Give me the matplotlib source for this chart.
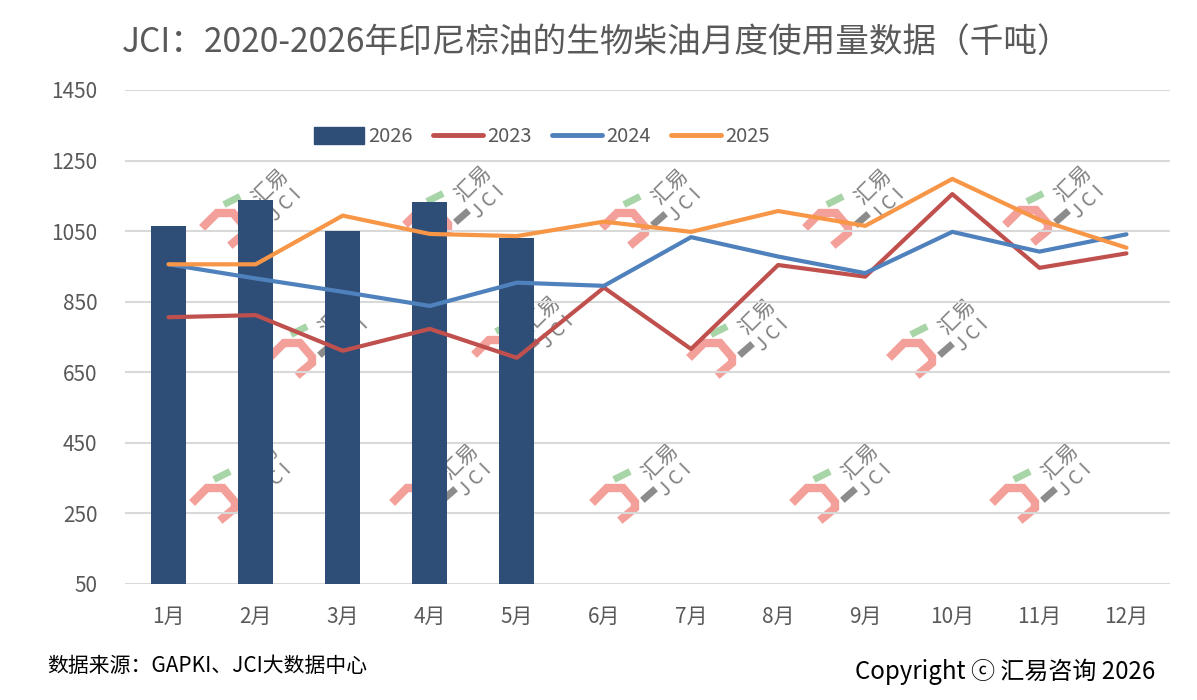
import matplotlib
matplotlib.use("Agg")
import matplotlib.pyplot as plt
from matplotlib.patches import Patch
from matplotlib.lines import Line2D
import numpy as np

plt.rcParams['font.family'] = ['Noto Sans CJK SC', 'DejaVu Sans']

months = ['1月', '2月', '3月', '4月', '5月', '6月', '7月', '8月', '9月', '10月', '11月', '12月']
y2026 = [1065, 1138, 1050, 1133, 1031]
y2023 = [806, 812, 711, 773, 691, 890, 716, 954, 921, 1155, 946, 987]
y2024 = [956, 916, 878, 838, 904, 895, 1033, 978, 931, 1048, 992, 1041]
y2025 = [956, 956, 1094, 1042, 1036, 1077, 1048, 1107, 1065, 1198, 1082, 1003]
yticks = [50, 250, 450, 650, 850, 1050, 1250, 1450]

W, H = 1197, 700
fig = plt.figure(figsize=(W / 100, H / 100), dpi=100)
ax = fig.add_axes([125 / W, 1 - 584 / H, (1170 - 125) / W, (584 - 90) / H])

x = np.arange(len(months))
ax.set_xlim(-0.5, len(months) - 0.5)
ax.set_ylim(50, 1450)


def fp(px, py):
    return px / W, 1 - py / H


# watermarks (decorative, behind the plot)
hooks = [(225, 225), (428, 222), (625, 225), (828, 225), (1028, 222),
         (292, 355), (497, 352), (712, 355), (912, 355),
         (215, 500), (415, 500), (615, 500), (815, 500), (1015, 500)]
for (hx, hy) in hooks:
    pts = [(-20, 0), (-8, -12), (8, -12), (20, 2), (20, 8), (8, 18)]
    xs = [fp(hx + a, hy + b)[0] for a, b in pts]
    ys = [fp(hx + a, hy + b)[1] for a, b in pts]
    fig.lines.append(Line2D(xs, ys, transform=fig.transFigure, color='#f4a09a', lw=6,
                            solid_joinstyle='miter', zorder=0.5))
    g = [fp(hx + 2, hy - 22), fp(hx + 12, hy - 27)]
    fig.lines.append(Line2D([g[0][0], g[1][0]], [g[0][1], g[1][1]], transform=fig.transFigure,
                            color='#a8d5a8', lw=5, zorder=0.5))
    d = [fp(hx + 30, hy - 2), fp(hx + 38, hy - 9)]
    fig.lines.append(Line2D([d[0][0], d[1][0]], [d[0][1], d[1][1]], transform=fig.transFigure,
                            color='#8c8c8c', lw=5, zorder=0.5))
    tx, ty = fp(hx + 45, hy - 38)
    fig.text(tx, ty, '汇易', rotation=45, fontsize=15, color='#808080',
             ha='center', va='center', zorder=0.5)
    tx, ty = fp(hx + 60, hy - 20)
    fig.text(tx, ty, 'J C I', rotation=45, fontsize=14, color='#808080',
             ha='center', va='center', zorder=0.5)

ax.set_zorder(1)
ax.patch.set_alpha(0)

ax.grid(axis='y', color='#d9d9d9', lw=1.5, zorder=0)
ax.set_axisbelow(True)
for s in ax.spines.values():
    s.set_visible(False)

c26, c23, c24, c25 = '#2e4e77', '#c0504d', '#4f81bd', '#f79646'
ax.bar(x[:len(y2026)], y2026, width=0.4, color=c26, label='2026', zorder=2)
ax.plot(x, y2023, color=c23, lw=3, label='2023', zorder=3, solid_capstyle='round')
ax.plot(x, y2024, color=c24, lw=3, label='2024', zorder=3, solid_capstyle='round')
ax.plot(x, y2025, color=c25, lw=3, label='2025', zorder=3, solid_capstyle='round')

ax.set_yticks(yticks, labels=[str(v) for v in yticks], fontsize=15,
              fontweight='medium', color='#595959')
ax.set_xticks(x, labels=months, fontsize=15, fontweight='medium', color='#595959')
ax.tick_params(axis='x', length=0, pad=16)
ax.tick_params(axis='y', length=0, pad=20)

handles = [Patch(color=c26), Line2D([], [], color=c23, lw=3.5, solid_capstyle='round'),
           Line2D([], [], color=c24, lw=3.5, solid_capstyle='round'),
           Line2D([], [], color=c25, lw=3.5, solid_capstyle='round')]
leg = ax.legend(handles, ['2026', '2023', '2024', '2025'], loc='center',
                bbox_to_anchor=(542 / W, 1 - 137 / H),
                bbox_transform=fig.transFigure, ncol=4, frameon=False,
                fontsize=14.5, handlelength=2.5, handleheight=0.9, columnspacing=1.0,
                handletextpad=0.2)
for t in leg.get_texts():
    t.set_color('#595959')
    t.set_fontweight('medium')

fig.text(597 / W, 1 - 42 / H, 'JCI：2020-2026年印尼棕油的生物柴油月度使用量数据（千吨）',
         ha='center', va='center', fontsize=24.2, color='#595959')
fig.text(47 / W, 1 - 666 / H, '数据来源：GAPKI、JCI大数据中心', ha='left', va='center',
         fontsize=15, color='#000000')
fig.text(1155 / W, 1 - 672 / H, 'Copyright ⓒ 汇易咨询 2026', ha='right', va='center',
         fontsize=17.3, color='#000000')

fig.savefig('out.png', dpi=100)
